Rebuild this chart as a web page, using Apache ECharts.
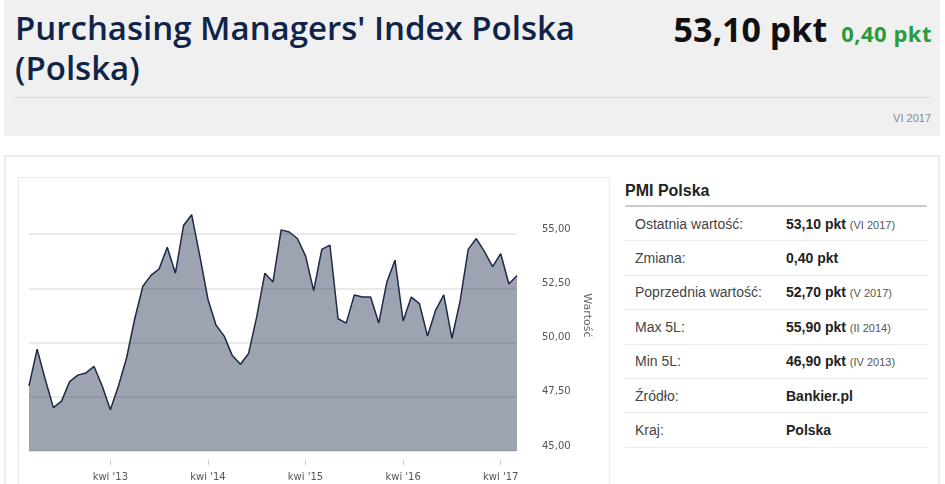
<!DOCTYPE html>
<html>
<head>
<meta charset="utf-8">
<script src="https://cdn.jsdelivr.net/npm/echarts@6/dist/echarts.min.js"></script>
<style>
    html, body { margin: 0; padding: 0; background: #fff; overflow: hidden; }
    body { width: 945px; height: 484px; position: relative; font-family: "Liberation Sans", Arial, sans-serif; }
    #head { position: absolute; left: 4px; top: 0; width: 936px; height: 136px; background: #f0f0f0; }
    #title { position: absolute; left: 11px; top: 8px; width: 600px; font-family: "Open Sans", sans-serif; font-weight: 600;
        font-size: 33px; line-height: 40px; color: #0f2448; }
    #price { position: absolute; right: 8px; top: 6px; font-family: "Open Sans", sans-serif; font-weight: 700; white-space: nowrap; }
    #price .v { font-size: 34px; color: #111; }
    #price .d { font-size: 22px; color: #2a9a3c; margin-left: 14px; letter-spacing: 0.5px; }
    #sep { position: absolute; left: 11px; top: 97px; width: 915px; height: 1px; background: #d9d9d9; }
    #date { position: absolute; right: 9px; top: 112px; font-size: 11px; color: #888; }
    #card { position: absolute; left: 4px; top: 155px; width: 932px; height: 340px; border: 2px solid #ececec; border-bottom: none; }
    #box { position: absolute; left: 18px; top: 177px; width: 590px; height: 320px; border: 1px solid #ececec; border-bottom: none; }
    #main { position: absolute; left: 19px; top: 178px; width: 590px; height: 306px; }
    #info { position: absolute; left: 625px; top: 179px; width: 302px; }
    #info h3 { margin: 0; font-size: 16px; font-weight: bold; color: #222; height: 26px; line-height: 24px; border-bottom: 2px solid #cccccc; }
    #info table { border-collapse: collapse; width: 100%; }
    #info td { height: 33.4px; padding: 0; border-bottom: 1px solid #ececec; font-size: 14px; color: #444; }
    #info td.l { padding-left: 10px; width: 151px; }
    #info td.r { font-weight: bold; color: #222; }
    #info td.r small { font-weight: normal; font-size: 11px; color: #555; }
</style>
</head>
<body>
<div id="head">
    <div id="title">Purchasing Managers' Index Polska (Polska)</div>
    <div id="price"><span class="v">53,10 pkt</span><span class="d">0,40 pkt</span></div>
    <div id="sep"></div>
    <div id="date">VI 2017</div>
</div>
<div id="card"></div>
<div id="box"></div>
<div id="main"></div>
<div id="info">
    <h3>PMI Polska</h3>
    <table id="tbl"></table>
</div>
<script>
    var months = [
        "cze '12", "lip '12", "sie '12", "wrz '12", "paź '12", "lis '12", "gru '12",
        "sty '13", "lut '13", "mar '13", "kwi '13", "maj '13", "cze '13", "lip '13", "sie '13", "wrz '13", "paź '13", "lis '13", "gru '13",
        "sty '14", "lut '14", "mar '14", "kwi '14", "maj '14", "cze '14", "lip '14", "sie '14", "wrz '14", "paź '14", "lis '14", "gru '14",
        "sty '15", "lut '15", "mar '15", "kwi '15", "maj '15", "cze '15", "lip '15", "sie '15", "wrz '15", "paź '15", "lis '15", "gru '15",
        "sty '16", "lut '16", "mar '16", "kwi '16", "maj '16", "cze '16", "lip '16", "sie '16", "wrz '16", "paź '16", "lis '16", "gru '16",
        "sty '17", "lut '17", "mar '17", "kwi '17", "maj '17", "cze '17"
    ];
    var pmiValues = [
        48.0, 49.7, 48.3, 47.0, 47.3, 48.2, 48.5,
        48.6, 48.9, 48.0, 46.9, 48.0, 49.3, 51.1, 52.6, 53.1, 53.4, 54.4, 53.2,
        55.4, 55.9, 54.0, 52.0, 50.8, 50.3, 49.4, 49.0, 49.5, 51.2, 53.2, 52.8,
        55.2, 55.1, 54.8, 54.0, 52.4, 54.3, 54.5, 51.1, 50.9, 52.2, 52.1, 52.1,
        50.9, 52.8, 53.8, 51.0, 52.1, 51.8, 50.3, 51.5, 52.2, 50.2, 51.9, 54.3,
        54.8, 54.2, 53.5, 54.1, 52.7, 53.1
    ];
    var yTicks = [45, 47.5, 50, 52.5, 55];

    var infoLabels = ['Ostatnia wartość:', 'Zmiana:', 'Poprzednia wartość:', 'Max 5L:', 'Min 5L:', 'Źródło:', 'Kraj:'];
    var infoValues = ['53,10 pkt', '0,40 pkt', '52,70 pkt', '55,90 pkt', '46,90 pkt', 'Bankier.pl', 'Polska'];
    var infoDates = ['VI 2017', '', 'V 2017', 'II 2014', 'IV 2013', '', ''];

    var rows = '';
    for (var i = 0; i < infoLabels.length; i++) {
        rows += '<tr><td class="l">' + infoLabels[i] + '</td><td class="r">' + infoValues[i] +
            (infoDates[i] ? ' <small>(' + infoDates[i] + ')</small>' : '') + '</td></tr>';
    }
    document.getElementById('tbl').innerHTML = rows;

    var isApril = function (index, value) {
        return value.indexOf('kwi') === 0;
    };

    var myChart = echarts.init(document.getElementById('main'));
    var option = {
        animation: false,
        grid: { left: 10, right: 92, top: 2, bottom: 33 },
        xAxis: {
            type: 'category',
            data: months,
            boundaryGap: false,
            offset: 9,
            axisLine: { show: false },
            axisTick: { interval: isApril, length: 5, lineStyle: { color: '#cccccc' } },
            axisLabel: { interval: isApril, margin: 12, color: '#555', fontSize: 10, fontFamily: 'DejaVu Sans' },
            splitLine: { show: false }
        },
        yAxis: {
            type: 'value',
            position: 'right',
            min: 45,
            max: 57.5,
            interval: 2.5,
            name: 'Wartość',
            nameLocation: 'middle',
            nameRotate: -90,
            nameGap: 62,
            nameTextStyle: { color: '#666', fontSize: 11, fontFamily: 'DejaVu Sans' },
            axisLine: { show: false },
            axisTick: { show: false },
            axisLabel: {
                margin: 25,
                color: '#555',
                fontSize: 10,
                fontFamily: 'DejaVu Sans',
                verticalAlign: 'bottom',
                formatter: function (v) {
                    return yTicks.indexOf(v) >= 0 ? v.toFixed(2).replace('.', ',') : '';
                }
            },
            splitLine: {
                lineStyle: {
                    color: ['#e3e3e3', '#e3e3e3', '#e3e3e3', '#e3e3e3', '#e3e3e3', 'rgba(0,0,0,0)'],
                    width: 1.5
                }
            }
        },
        series: [
            {
                name: 'PMI Polska',
                type: 'line',
                data: pmiValues,
                symbol: 'none',
                lineStyle: { color: '#1c2a48', width: 1.5 },
                areaStyle: { color: '#1c2a48', opacity: 0.43 }
            }
        ]
    };

    myChart.setOption(option);
</script>
</body>
</html>
